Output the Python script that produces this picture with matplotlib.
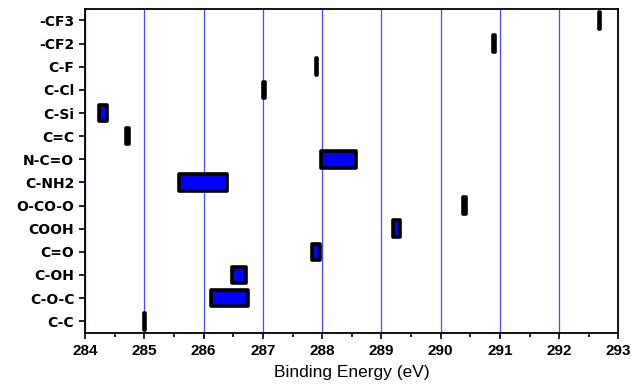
import matplotlib.pyplot as plt
import numpy as np

plt.rcParams['font.family'] = ['Liberation Sans', 'DejaVu Sans']

groups = ['C-C', 'C-O-C', 'C-OH', 'C=O', 'COOH', 'O-CO-O', 'C-NH2',
          'N-C=O', 'C=C', 'C-Si', 'C-Cl', 'C-F', '-CF2', '-CF3']
be_low = [285.0, 286.12, 286.48, 287.83, 289.2, 290.37, 285.58,
          287.98, 284.69, 284.23, 287.0, 287.89, 290.89, 292.67]
be_high = [285.01, 286.74, 286.71, 287.96, 289.32, 290.43, 286.39,
           288.57, 284.74, 284.36, 287.03, 287.92, 290.91, 292.69]

fig = plt.figure(figsize=(6.31, 3.87), dpi=100)
ax = fig.add_axes([0.135, 0.14, 0.845, 0.837])

y = np.arange(len(groups))
widths = np.array(be_high) - np.array(be_low)
ax.barh(y, widths, left=be_low, height=0.72, color='#0000ff',
        edgecolor='black', linewidth=2.6, joinstyle='round', zorder=3)

ax.set_xlim(284, 293)
ax.set_ylim(-0.5, len(groups) - 0.5)
ax.set_xticks(np.arange(284, 294, 1))
ax.set_xticks(np.arange(284.5, 293, 1), minor=True)
ax.set_yticks(y)
ax.set_yticklabels(groups, fontweight='bold', fontsize=10, family='DejaVu Sans')
for lab in ax.get_xticklabels():
    lab.set_fontweight('bold')
    lab.set_fontsize(11)
ax.xaxis.grid(True, color='#4a4aff', linewidth=0.9, zorder=0)
ax.set_axisbelow(True)
ax.tick_params(axis='both', which='major', direction='out', length=4.3, width=1.2)
ax.tick_params(axis='x', which='minor', direction='out', length=3, width=1.2)
ax.set_xlabel('Binding Energy (eV)', fontsize=12.5, labelpad=5)
for s in ax.spines.values():
    s.set_linewidth(1.3)

fig.savefig('out.png', dpi=100)
